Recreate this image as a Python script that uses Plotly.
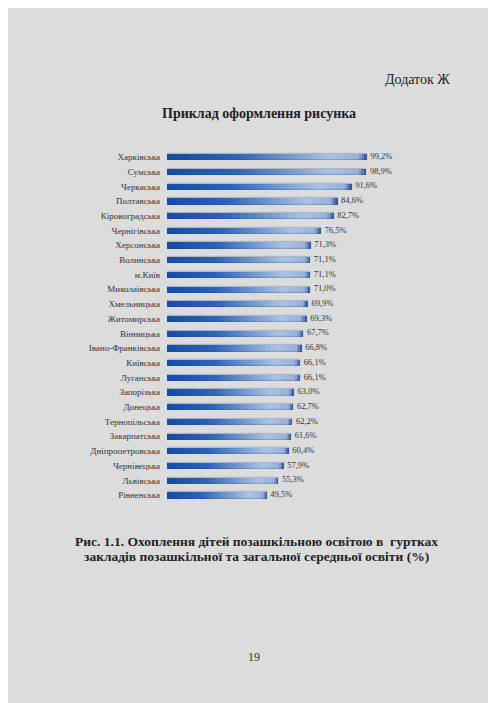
import plotly.graph_objects as go

regions = ["Харківська", "Сумська", "Черкаська", "Полтавська", "Кіровоградська",
           "Чернігівська", "Херсонська", "Волинська", "м.Київ", "Миколаївська",
           "Хмельницька", "Житомирська", "Вінницька", "Івано-Франківська", "Київська",
           "Луганська", "Запорізька", "Донецька", "Тернопільська", "Закарпатська",
           "Дніпропетровська", "Чернівецька", "Львівська", "Рівненська"]
values = [99.2, 98.9, 91.6, 84.6, 82.7, 76.5, 71.3, 71.1, 71.1, 71.0,
          69.9, 69.3, 67.7, 66.8, 66.1, 66.1, 63.0, 62.7, 62.2, 61.6,
          60.4, 57.9, 55.3, 49.5]
labels = [f"{v:.1f}%".replace(".", ",") for v in values]

W, H = 496, 703
OX, OY = 8, 8  # page offset from the browser body margin
SERIF = "Liberation Serif"


def px(x):
    return (x - OX) / W


def py(y):
    return 1 - (y - OY) / H


# gradient stops along bar length
stops = [(0.0, (22, 76, 162)), (0.35, (45, 100, 182)), (0.82, (172, 196, 228)),
         (0.96, (150, 176, 215)), (1.0, (38, 82, 158))]


def grad(f):
    for (f0, c0), (f1, c1) in zip(stops[:-1], stops[1:]):
        if f0 <= f <= f1:
            t = (f - f0) / (f1 - f0) if f1 > f0 else 0
            return "rgb(%d,%d,%d)" % tuple(round(a + (b - a) * t) for a, b in zip(c0, c1))
    return "rgb(%d,%d,%d)" % stops[-1][1]


fig = go.Figure()
N = 80
for i in range(N, 0, -1):
    frac = i / N
    fig.add_trace(go.Bar(
        y=regions, x=[v * frac for v in values], orientation="h",
        marker=dict(color=grad((i - 0.5) / N), line=dict(width=0)),
        width=0.42, hoverinfo="skip", showlegend=False,
    ))
# thin outline giving the dark top edge
fig.add_trace(go.Bar(
    y=regions, x=values, orientation="h",
    marker=dict(color="rgba(0,0,0,0)", line=dict(width=0.5, color="rgba(30,70,140,0.6)")),
    width=0.42, showlegend=False, hoverinfo="skip",
))
# value labels
fig.add_trace(go.Scatter(
    y=regions, x=values, mode="markers+text", text=labels, textposition="middle right",
    marker=dict(size=4, color="rgba(0,0,0,0)"),
    textfont=dict(family=SERIF, size=8.5, color="#333333"),
    cliponaxis=False, showlegend=False, hoverinfo="skip",
))

x0, x1 = px(167), px(167 + 201.6)
ytop, ybot = py(149.6), py(502.4)

fig.update_layout(
    width=W, height=H, margin=dict(l=0, r=0, t=0, b=0),
    paper_bgcolor="#dcdcdc", plot_bgcolor="rgba(0,0,0,0)",
    barmode="overlay", bargap=0,
    xaxis=dict(domain=[x0, x1], range=[0, 100], visible=False, fixedrange=True),
    yaxis=dict(domain=[ybot, ytop], categoryorder="array", categoryarray=regions,
               range=[len(regions) - 0.5, -0.5], autorange=False,
               showgrid=False, zeroline=False, showline=False,
               ticks="", ticklabelstandoff=6,
               tickfont=dict(family=SERIF, size=9, color="#333333")),
    annotations=[
        dict(text="Додаток Ж", xref="paper", yref="paper", x=px(452), y=py(80),
             xanchor="right", yanchor="middle", showarrow=False,
             font=dict(family=SERIF, size=14, color="#222222")),
        dict(text="<b>Приклад оформлення рисунка</b>", xref="paper", yref="paper",
             x=px(259), y=py(113), xanchor="center", yanchor="middle", showarrow=False,
             font=dict(family=SERIF, size=14, color="#222222")),
        dict(text="<b>Рис. 1.1. Охоплення дітей позашкільною освітою в  гуртках</b>",
             xref="paper", yref="paper", x=px(256), y=py(541),
             xanchor="center", yanchor="middle", showarrow=False,
             font=dict(family=SERIF, size=13.5, color="#222222")),
        dict(text="<b>закладів позашкільної та загальної середньої освіти (%)</b>",
             xref="paper", yref="paper", x=px(256), y=py(556),
             xanchor="center", yanchor="middle", showarrow=False,
             font=dict(family=SERIF, size=13.5, color="#222222")),
        dict(text="19", xref="paper", yref="paper", x=px(254), y=py(657),
             xanchor="center", yanchor="middle", showarrow=False,
             font=dict(family=SERIF, size=12, color="#333333")),
    ],
)

fig.write_html("out.html")
